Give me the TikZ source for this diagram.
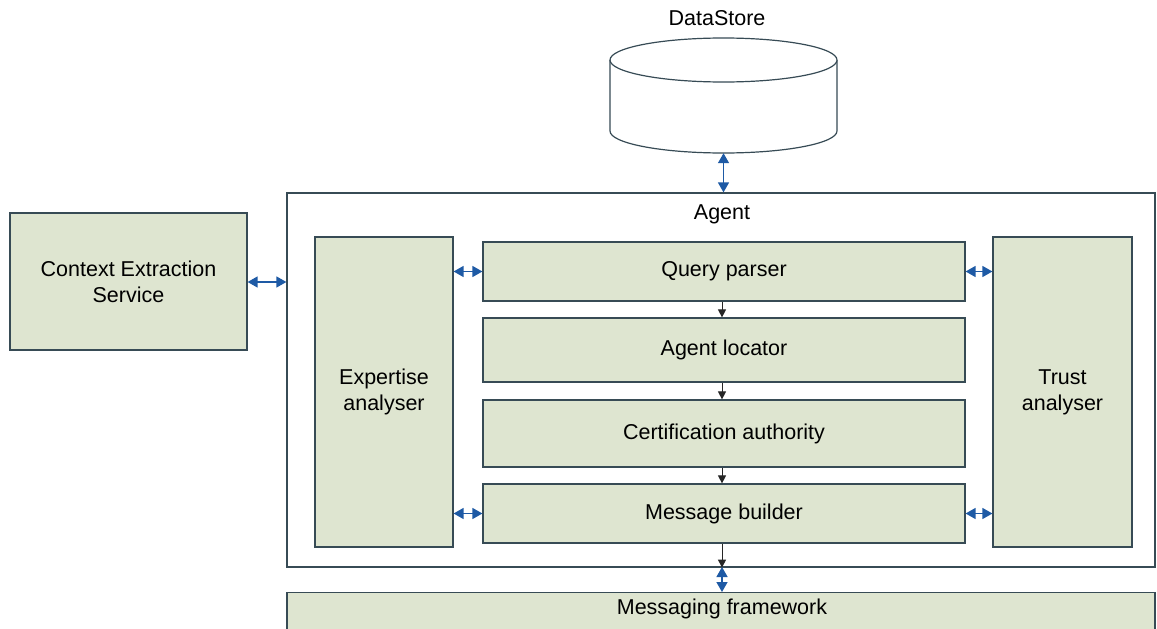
\documentclass[tikz,border=0pt]{standalone}
\usepackage{fontspec}
\setmainfont{Liberation Sans}
\usetikzlibrary{arrows.meta}
\definecolor{boxfill}{RGB}{222,229,208}
\definecolor{boxline}{RGB}{55,75,85}
\definecolor{linkblue}{RGB}{30,90,165}
\tikzset{
  box/.style={draw=boxline, fill=boxfill, line width=1.2pt, align=center,
    inner sep=0pt, font=\fontsize{21.5}{26}\selectfont},
  frame/.style={draw=boxline, fill=white, line width=1.2pt},
  lbl/.style={inner sep=0pt, font=\fontsize{21.5}{26}\selectfont},
  both/.style={linkblue, line width=1.4pt,
    {Triangle[width=11pt,length=10pt]}-{Triangle[width=11pt,length=10pt]}},
  flow/.style={black!85, line width=1pt, -{Triangle[width=8pt,length=8pt]}}
}
\begin{document}
\begin{tikzpicture}[x=1pt,y=-1pt]
\useasboundingbox[fill=white] (0,0) rectangle (1157,629);

% data store cylinder
\node (dslabel) [lbl] at (717,18) {DataStore};
\node (ds) [minimum width=227pt, minimum height=115pt, inner sep=0pt] at (723.5,95.5) {};
\draw[boxline, line width=1.2pt, fill=white]
  (610,60) -- (610,131) arc[start angle=180, end angle=360, x radius=113.5pt, y radius=22pt] -- (837,60);
\draw[boxline, line width=1.2pt, fill=white] (723.5,60) ellipse [x radius=113.5pt, y radius=22pt];

% agent container
\node (agent) [frame, minimum width=868pt, minimum height=374pt, inner sep=0pt] at (721,380) {};
\node (agentlabel) [lbl] at (722,214) {Agent};

% messaging framework
\node (mf) [box, minimum width=868pt, minimum height=50pt, anchor=north] at (721,592) {};
\node (mflabel) [lbl] at (722,609) {Messaging framework};

% context extraction service
\node (ces) [box, minimum width=237pt, minimum height=137pt] at (128.5,281.5) {Context Extraction\\Service};

% agent components
\node (ea) [box, minimum width=138pt, minimum height=310pt] at (384,392) {Expertise\\analyser};
\node (ta) [box, minimum width=139pt, minimum height=310pt] at (1062.5,392) {Trust\\analyser};
\node (qp) [box, minimum width=482pt, minimum height=59pt] at (724,271.5) {Query parser};
\node (al) [box, minimum width=482pt, minimum height=64pt] at (724,350) {Agent locator};
\node (ca) [box, minimum width=482pt, minimum height=67pt] at (724,433.5) {Certification authority};
\node (mb) [box, minimum width=482pt, minimum height=59pt] at (724,513.5) {Message builder};

% two-way links
\draw[both] (ds.south) -- (ds.south |- agent.north);
\draw[both] (ces.east |- 0,282) -- (agent.west |- 0,282);
\draw[both] (ea.east |- qp.west) -- (qp.west);
\draw[both] (ea.east |- mb.west) -- (mb.west);
\draw[both] (qp.east) -- (ta.west |- qp.east);
\draw[both] (mb.east) -- (ta.west |- mb.east);
\draw[both] (722,567) -- (722,592);

% processing flow
\draw[flow] (qp.south -| 722,0) -- (al.north -| 722,0);
\draw[flow] (al.south -| 722,0) -- (ca.north -| 722,0);
\draw[flow] (ca.south -| 722,0) -- (mb.north -| 722,0);
\draw[flow] (mb.south -| 722,0) -- (agent.south -| 722,0);
\end{tikzpicture}
\end{document}
